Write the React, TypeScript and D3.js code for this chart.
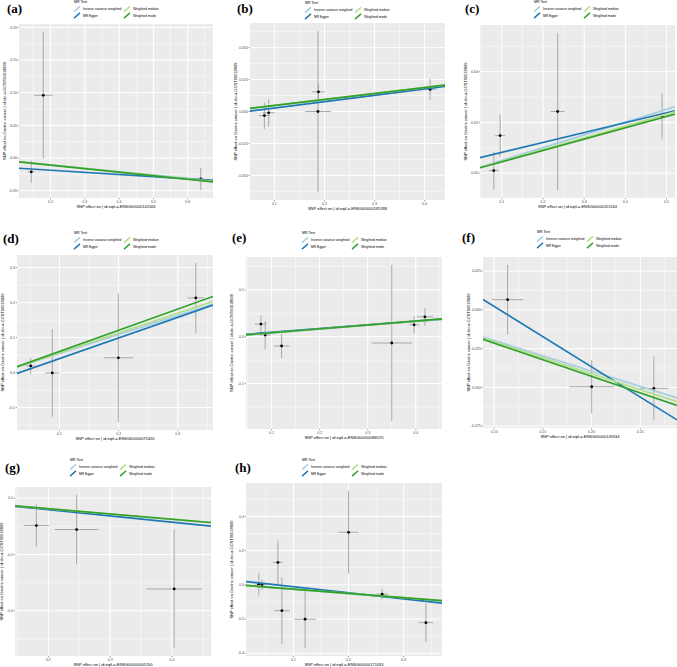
import * as d3 from "d3";

// MR scatter plots, eight panels (a)-(h)
const W = 677;
const H = 667;

const methods = ["Inverse variance weighted", "MR Egger", "Weighted median", "Weighted mode"];
const methodColors = ["#A6CEE3", "#1F78B4", "#B2DF8A", "#33A02C"];

const panelLabels = ["(a)", "(b)", "(c)", "(d)", "(e)", "(f)", "(g)", "(h)"];
const exposureIds = [
  "ENSG00000141506",
  "ENSG00000185338",
  "ENSG00000151164",
  "ENSG00000075420",
  "ENSG00000086570",
  "ENSG00000149534",
  "ENSG00000005700",
  "ENSG00000171033",
];
const outcomeTitle = "SNP effect on Gastric cancer | id:ebi-a-GCST90018849";

// SNPs: [beta.exposure, beta.outcome, se.exposure, se.outcome]
type Snp = [number, number, number, number];
const snpsA: Snp[] = [[0.144, -0.021, 0.01, 0.017], [0.179, 0.096, 0.027, 0.097], [0.638, -0.032, 0.01, 0.017]];
const snpsB: Snp[] = [
  [0.08, -0.0032, 0.011, 0.0104], [0.0887, -0.001, 0.012, 0.0106], [0.188, 0.0154, 0.0127, 0.006],
  [0.187, 0, 0.0257, 0.063], [0.411, 0.0173, 0.012, 0.0083],
];
const snpsC: Snp[] = [[0.0806, 0.001, 0.012, 0.0075], [0.096, 0.0148, 0.012, 0.0083], [0.2356, 0.0243, 0.017, 0.031], [0.489, 0.0223, 0.01, 0.009]];
const snpsD: Snp[] = [[0.0511, 0.019, 0.008, 0.024], [0.0877, -0.001, 0.012, 0.125], [0.1995, 0.0423, 0.0248, 0.1836], [0.3305, 0.2133, 0.014, 0.1]];
const snpsE: Snp[] = [
  [0.0778, 0.027, 0.0125, 0.0185], [0.0867, 0.0036, 0.012, 0.03], [0.1208, -0.0198, 0.016, 0.026],
  [0.35, -0.0134, 0.042, 0.167], [0.3965, 0.0255, 0.011, 0.019], [0.419, 0.0425, 0.017, 0.0185],
];
const snpsF: Snp[] = [[0.1138, 0.0066, 0.0162, 0.0225], [0.2001, -0.0496, 0.0228, 0.0172], [0.2639, -0.0506, 0.0147, 0.0206]];
const snpsG: Snp[] = [[0.1806, -0.0972, 0.0202, 0.075], [0.2457, -0.1113, 0.0355, 0.124], [0.4036, -0.3225, 0.0452, 0.211]];
const snpsH: Snp[] = [
  [0.037, 0.004, 0.007, 0.066], [0.0429, 0, 0.009, 0.03], [0.0718, 0.131, 0.009, 0.127], [0.079, -0.151, 0.014, 0.195],
  [0.1211, -0.201, 0.0196, 0.169], [0.2, 0.307, 0.018, 0.242], [0.261, -0.0545, 0.0105, 0.031], [0.3405, -0.221, 0.013, 0.113],
];

// fitted lines in method order: [slope, intercept]
const fitsA = [[-0.052, 0], [-0.033, -0.012], [-0.053, 0], [-0.054, 0]];
const fitsB = [[0.046, 0], [0.0495, -0.0022], [0.047, 0], [0.047, 0]];
const fitsC = [[0.0502, 0], [0.039, 0.0043], [0.0464, 0], [0.0447, 0]];
const fitsD = [[0.545, 0], [0.59, -0.019], [0.567, 0], [0.605, 0]];
const fitsE = [[0.082, 0], [0.079, 0.0015], [0.083, 0], [0.084, 0]];
const fitsF = [[-0.1975, 0], [-0.39, 0.0412], [-0.206, 0], [-0.2145, 0]];
const fitsG = [[-0.19, 0], [-0.223, 0.004], [-0.187, 0], [-0.186, 0]];
const fitsH = [[-0.26, 0], [-0.354, 0.024], [-0.25, 0], [-0.249, 0]];

// tick values
const xTicksA = [0.2, 0.3, 0.4, 0.5, 0.6];
const yTicksA = [-0.05, 0, 0.05, 0.1, 0.15, 0.2];
const xTicksB = [0.1, 0.2, 0.3, 0.4];
const yTicksB = [-0.05, -0.025, 0, 0.025, 0.05];
const xTicksC = [0.1, 0.2, 0.3, 0.4, 0.5];
const yTicksC = [0, 0.02, 0.04];
const xTicksD = [0.1, 0.2, 0.3];
const yTicksD = [-0.1, 0, 0.1, 0.2, 0.3];
const xTicksE = [0.1, 0.2, 0.3, 0.4];
const yTicksE = [-0.1, 0, 0.1];
const xTicksF = [0.1, 0.15, 0.2, 0.25];
const yTicksF = [-0.075, -0.05, -0.025, 0, 0.025];
const xTicksG = [0.2, 0.3, 0.4];
const yTicksG = [-0.4, -0.2, 0];
const xTicksH = [0.1, 0.2, 0.3];
const yTicksH = [-0.4, -0.2, 0, 0.2, 0.4];

const xFormats = [".1f", ".1f", ".1f", ".1f", ".1f", ".2f", ".1f", ".1f"];
const yFormats = [".2f", ".3f", ".2f", ".1f", ".1f", ".3f", ".1f", ".1f"];

const panels = [
  { snps: snpsA, fits: fitsA, xTicks: xTicksA, yTicks: yTicksA },
  { snps: snpsB, fits: fitsB, xTicks: xTicksB, yTicks: yTicksB },
  { snps: snpsC, fits: fitsC, xTicks: xTicksC, yTicks: yTicksC },
  { snps: snpsD, fits: fitsD, xTicks: xTicksD, yTicks: yTicksD },
  { snps: snpsE, fits: fitsE, xTicks: xTicksE, yTicks: yTicksE },
  { snps: snpsF, fits: fitsF, xTicks: xTicksF, yTicks: yTicksF },
  { snps: snpsG, fits: fitsG, xTicks: xTicksG, yTicks: yTicksG },
  { snps: snpsH, fits: fitsH, xTicks: xTicksH, yTicks: yTicksH },
];

// plot rectangles, panel label and legend anchors
const layout = [
  { x0: 19, y0: 24, x1: 213, y1: 198, lx: 7, ly: 12.5, gx: 74, gy: 2 },
  { x0: 250, y0: 23, x1: 445, y1: 200, lx: 237, ly: 12.5, gx: 305, gy: 3 },
  { x0: 480, y0: 25, x1: 675, y1: 198, lx: 465, ly: 12.5, gx: 534, gy: 2 },
  { x0: 17, y0: 255, x1: 213, y1: 430, lx: 3, ly: 242.5, gx: 74, gy: 233 },
  { x0: 246, y0: 257, x1: 442, y1: 429, lx: 232, ly: 242, gx: 302, gy: 233 },
  { x0: 483, y0: 257, x1: 677, y1: 428, lx: 462, ly: 242, gx: 537, gy: 232 },
  { x0: 15, y0: 487, x1: 211, y1: 656, lx: 5, ly: 471.5, gx: 70, gy: 460 },
  { x0: 246, y0: 483, x1: 442, y1: 656, lx: 235, ly: 471.5, gx: 302, gy: 460 },
];

const sans = "'Liberation Sans', Arial, sans-serif";

const expand = (lo: number, hi: number): [number, number] => {
  const r = hi - lo;
  return [lo - r * 0.05, hi + r * 0.05];
};

const minorOf = (ticks: number[], dom: [number, number]) => {
  const step = ticks[1] - ticks[0];
  const out: number[] = [];
  for (let v = ticks[0] - step * 1.5; v <= ticks[ticks.length - 1] + step * 1.5; v += step) {
    if (v >= dom[0] && v <= dom[1]) out.push(v);
  }
  return out;
};

const fmt = (spec: string) => {
  const f = d3.format(spec);
  return (v: number) => f(v).replace("\u2212", "-");
};

const Panel = ({ i }: { i: number }) => {
  const p = panels[i];
  const L = layout[i];
  const xDom = expand(d3.min(p.snps, s => s[0] - s[2])!, d3.max(p.snps, s => s[0] + s[2])!);
  const yDom = expand(d3.min(p.snps, s => s[1] - s[3])!, d3.max(p.snps, s => s[1] + s[3])!);
  const x = d3.scaleLinear().domain(xDom).range([L.x0, L.x1]);
  const y = d3.scaleLinear().domain(yDom).range([L.y1, L.y0]);
  const xf = fmt(xFormats[i]);
  const yf = fmt(yFormats[i]);
  const fitLine = d3
    .line<[number, number]>()
    .x(d => x(d[0]))
    .y(d => y(d[1]));
  const clipId = `clip-${i}`;
  const cx = (L.x0 + L.x1) / 2;
  const cy = (L.y0 + L.y1) / 2;
  const titleX = Math.max(L.x0 - 13.5, 3.2);

  return (
    <g>
      <defs>
        <clipPath id={clipId}>
          <rect x={L.x0} y={L.y0} width={L.x1 - L.x0} height={L.y1 - L.y0} />
        </clipPath>
      </defs>
      <text x={L.lx} y={L.ly} fontFamily="'Liberation Serif', 'Times New Roman', serif" fontWeight="bold" fontSize={13}>
        {panelLabels[i]}
      </text>

      {/* legend */}
      <g fontFamily={sans}>
        <text x={L.gx} y={L.gy + 1.3} fontSize={3.6} fill="#000">
          MR Test
        </text>
        {methods.map((m, k) => {
          const kx = L.gx + (k >= 2 ? 50 : 0);
          const ky = L.gy + (k % 2 === 0 ? 7 : 13.5);
          return (
            <g key={m}>
              <line x1={kx} y1={ky + 2.6} x2={kx + 6} y2={ky - 2.6} stroke={methodColors[k]} strokeWidth={1.4} />
              <text x={kx + 9} y={ky + 1.2} fontSize={3.3} fill="#000">
                {m}
              </text>
            </g>
          );
        })}
      </g>

      {/* panel background and grid */}
      <rect x={L.x0} y={L.y0} width={L.x1 - L.x0} height={L.y1 - L.y0} fill="#EBEBEB" />
      {minorOf(p.xTicks, xDom).map(v => (
        <line key={`xm${v}`} x1={x(v)} x2={x(v)} y1={L.y0} y2={L.y1} stroke="#fff" strokeWidth={0.5} />
      ))}
      {minorOf(p.yTicks, yDom).map(v => (
        <line key={`ym${v}`} x1={L.x0} x2={L.x1} y1={y(v)} y2={y(v)} stroke="#fff" strokeWidth={0.5} />
      ))}
      {p.xTicks.map(v => (
        <line key={`xg${v}`} x1={x(v)} x2={x(v)} y1={L.y0} y2={L.y1} stroke="#fff" strokeWidth={1} />
      ))}
      {p.yTicks.map(v => (
        <line key={`yg${v}`} x1={L.x0} x2={L.x1} y1={y(v)} y2={y(v)} stroke="#fff" strokeWidth={1} />
      ))}

      {/* error bars and points */}
      {p.snps.map((s, k) => (
        <g key={`e${k}`} stroke="#A0A0A0" strokeWidth={0.9}>
          <line x1={x(s[0])} x2={x(s[0])} y1={y(s[1] - s[3])} y2={y(s[1] + s[3])} />
          <line x1={x(s[0] - s[2])} x2={x(s[0] + s[2])} y1={y(s[1])} y2={y(s[1])} />
        </g>
      ))}
      {p.snps.map((s, k) => (
        <circle key={`p${k}`} cx={x(s[0])} cy={y(s[1])} r={1.4} fill="#000" />
      ))}

      {/* MR fits */}
      <g clipPath={`url(#${clipId})`}>
        {p.fits.map((f, k) => (
          <path
            key={`f${k}`}
            d={fitLine(xDom.map(v => [v, f[1] + f[0] * v] as [number, number])) ?? ""}
            fill="none"
            stroke={methodColors[k]}
            strokeWidth={1.7}
          />
        ))}
      </g>

      {/* axes */}
      <g fontFamily={sans} fontSize={3.6} fill="#4D4D4D">
        {p.xTicks.map(v => (
          <g key={`xt${v}`}>
            <line x1={x(v)} x2={x(v)} y1={L.y1} y2={L.y1 + 1.3} stroke="#333" strokeWidth={0.5} />
            <text x={x(v)} y={L.y1 + 5} textAnchor="middle">
              {xf(v)}
            </text>
          </g>
        ))}
        {p.yTicks.map(v => (
          <g key={`yt${v}`}>
            <line x1={L.x0 - 1.3} x2={L.x0} y1={y(v)} y2={y(v)} stroke="#333" strokeWidth={0.5} />
            <text x={L.x0 - 2} y={y(v) + 1.2} textAnchor="end">
              {yf(v)}
            </text>
          </g>
        ))}
      </g>
      <text x={cx} y={L.y1 + 9.6} textAnchor="middle" fontFamily={sans} fontSize={4} fill="#000">
        {`SNP effect on  | id:eqtl-a-${exposureIds[i]}`}
      </text>
      <text
        transform={`translate(${titleX},${cy}) rotate(-90)`}
        textAnchor="middle"
        fontFamily={sans}
        fontSize={4}
        fill="#000"
      >
        {outcomeTitle}
      </text>
    </g>
  );
};

export default function App() {
  return (
    <svg
      width={W}
      height={H}
      viewBox={`0 0 ${W} ${H}`}
      style={{ position: "absolute", left: 0, top: 0, background: "#fff" }}
    >
      {panels.map((_, i) => (
        <Panel key={i} i={i} />
      ))}
    </svg>
  );
}
